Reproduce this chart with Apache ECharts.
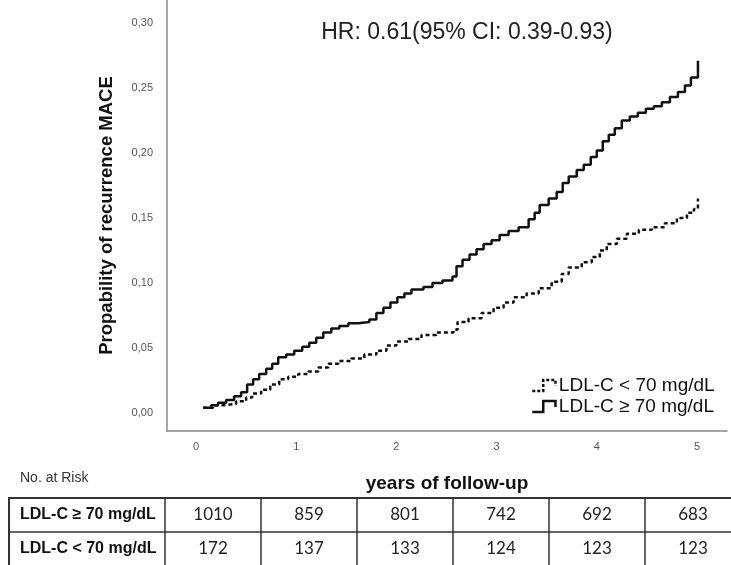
<!DOCTYPE html>
<html><head><meta charset="utf-8">
<script src="https://cdn.jsdelivr.net/npm/echarts@6/dist/echarts.min.js"></script>
<style>html,body{margin:0;padding:0;background:#fff}#c{width:731px;height:565px}</style>
</head><body><div id="c"></div>
<script>
// ---- data ----
var titleText = 'HR: 0.61(95% CI: 0.39-0.93)';
var yTitle = 'Propability of recurrence MACE';
var xTitle = 'years of follow-up';
var xTicks = [0, 1, 2, 3, 4, 5];
var yTicks = [0, 0.05, 0.10, 0.15, 0.20, 0.25, 0.30];
var seriesNames = ['LDL-C < 70 mg/dL', 'LDL-C \u2265 70 mg/dL'];

var highTime = [0.07,0.15,0.22,0.30,0.38,0.45,0.51,0.57,0.63,0.70,0.76,0.82,0.90,0.98,1.06,1.13,1.20,1.27,1.35,1.43,1.52,1.62,1.73,1.80,1.87,1.94,2.01,2.08,2.15,2.27,2.36,2.46,2.56,2.60,2.66,2.73,2.80,2.87,2.95,3.03,3.12,3.22,3.32,3.38,3.43,3.52,3.60,3.66,3.72,3.80,3.87,3.94,4.00,4.06,4.12,4.18,4.25,4.33,4.41,4.49,4.57,4.65,4.73,4.81,4.88,4.94,5.01];
var highProb = [0.004,0.006,0.008,0.010,0.013,0.016,0.022,0.026,0.030,0.034,0.038,0.043,0.045,0.048,0.051,0.054,0.058,0.062,0.065,0.067,0.069,0.070,0.072,0.077,0.081,0.085,0.089,0.092,0.095,0.097,0.100,0.102,0.105,0.113,0.118,0.122,0.126,0.130,0.133,0.137,0.140,0.143,0.149,0.154,0.160,0.165,0.170,0.177,0.182,0.187,0.191,0.197,0.202,0.209,0.214,0.219,0.225,0.228,0.231,0.234,0.236,0.239,0.243,0.247,0.252,0.258,0.271];

var lowTime = [0.07,0.17,0.28,0.40,0.50,0.56,0.65,0.74,0.83,0.92,1.02,1.12,1.22,1.32,1.42,1.55,1.68,1.80,1.90,2.00,2.12,2.25,2.40,2.57,2.61,2.72,2.85,2.97,3.07,3.17,3.30,3.42,3.55,3.65,3.72,3.85,3.95,4.03,4.10,4.20,4.30,4.42,4.55,4.68,4.80,4.90,4.97,5.01];
var lowProb = [0.004,0.006,0.007,0.009,0.012,0.015,0.018,0.022,0.026,0.028,0.030,0.032,0.035,0.038,0.040,0.042,0.045,0.048,0.052,0.055,0.057,0.060,0.062,0.064,0.070,0.073,0.077,0.081,0.085,0.089,0.092,0.096,0.101,0.107,0.112,0.116,0.120,0.125,0.130,0.134,0.138,0.141,0.143,0.146,0.150,0.154,0.157,0.165];

var riskLabel = 'No. at Risk';
var tableRowNames = ['LDL-C \u2265 70 mg/dL', 'LDL-C < 70 mg/dL'];
var riskHigh = [1010, 859, 801, 742, 692, 683];
var riskLow = [172, 137, 133, 124, 123, 123];

// ---- build ----
function pairs(t, v) { return t.map(function (x, i) { return [x, v[i]]; }); }
var FONT = '"Liberation Sans", Arial, sans-serif';
var chart = echarts.init(document.getElementById('c'), null, { renderer: 'canvas' });

// table graphic
var tLeft = 9, tTop = 498, rowH = 34, firstColW = 156, colW = 96;
var g = [];
var tableRight = tLeft + firstColW + colW * riskHigh.length;
g.push({ type: 'text', left: 20, top: 471, style: { text: riskLabel, font: '14px ' + FONT, fill: '#333' } });
g.push({ type: 'rect', shape: { x: tLeft, y: tTop, width: tableRight - tLeft, height: rowH * 2 }, style: { fill: 'none', stroke: '#333', lineWidth: 2 } });
g.push({ type: 'line', shape: { x1: tLeft, y1: tTop + rowH, x2: tableRight, y2: tTop + rowH }, style: { stroke: '#333', lineWidth: 1.5 } });
for (var i = 0; i <= riskHigh.length - 1; i++) {
  var xx = tLeft + firstColW + colW * i;
  g.push({ type: 'line', shape: { x1: xx, y1: tTop, x2: xx, y2: tTop + rowH * 2 }, style: { stroke: '#333', lineWidth: 1.5 } });
}
var rows = [riskHigh, riskLow];
rows.forEach(function (r, ri) {
  var cy = tTop + rowH * ri + rowH / 2;
  g.push({ type: 'text', x: 20, y: cy, style: { text: tableRowNames[ri], font: 'bold 16px ' + FONT, fill: '#111', textVerticalAlign: 'middle', verticalAlign: 'middle' } });
  r.forEach(function (v, ci) {
    var cx = tLeft + firstColW + colW * ci + colW / 2;
    g.push({ type: 'text', x: cx, y: cy, style: { text: String(v), font: '17px Lato, "Open Sans", sans-serif', fill: '#222', align: 'center', textAlign: 'center', verticalAlign: 'middle', textVerticalAlign: 'middle' } });
  });
});

var stepIcon = 'path://M0,10 L9,10 L9,1 L19,1 L19,6';
var option = {
  animation: false,
  backgroundColor: '#fff',
  title: { text: titleText, left: 462, top: 16, textAlign: 'center',
    textStyle: { fontFamily: FONT, fontSize: 23, fontWeight: 'normal', color: '#222' } },
  grid: { left: 167, right: 4, top: 0, bottom: 134, containLabel: false },
  legend: {
    orient: 'vertical', left: 526, top: 371, itemGap: 2, itemWidth: 26, itemHeight: 11,
    textStyle: { fontFamily: FONT, fontSize: 19, color: '#111', padding: [0, 0, 0, -3] },
    data: [
      { name: seriesNames[0], icon: stepIcon, itemStyle: { color: 'rgba(0,0,0,0)', borderColor: '#111', borderWidth: 2.5, borderType: [3, 2] } },
      { name: seriesNames[1], icon: stepIcon, itemStyle: { color: 'rgba(0,0,0,0)', borderColor: '#111', borderWidth: 2.5 } }
    ]
  },
  xAxis: {
    type: 'value', min: -0.29, max: 5.3,
    name: xTitle, nameLocation: 'middle', nameGap: 43,
    nameTextStyle: { fontFamily: FONT, fontSize: 19, fontWeight: 'bold', color: '#111' },
    axisLine: { show: true, onZero: false, lineStyle: { color: '#888', width: 1.5 } },
    axisTick: { show: false },
    splitLine: { show: false },
    axisLabel: { customValues: xTicks, fontFamily: FONT, fontSize: 11, color: '#555', margin: 10, formatter: function (v) { return String(v); } }
  },
  yAxis: {
    type: 'value', min: -0.0138, max: 0.3177,
    name: yTitle, nameLocation: 'middle', nameGap: 51,
    nameTextStyle: { fontFamily: FONT, fontSize: 18.5, fontWeight: 'bold', color: '#111' },
    axisLine: { show: true, onZero: false, lineStyle: { color: '#888', width: 1.5 } },
    axisTick: { show: false },
    splitLine: { show: false },
    axisLabel: { customValues: yTicks, fontFamily: FONT, fontSize: 11, color: '#555', margin: 14, formatter: function (v) { return v.toFixed(2).replace('.', ','); } }
  },
  series: [
    { name: seriesNames[0], type: 'line', step: 'end', showSymbol: false, data: pairs(lowTime, lowProb),
      lineStyle: { color: '#111', width: 2.5, type: [4, 3] }, itemStyle: { color: '#111' } },
    { name: seriesNames[1], type: 'line', step: 'end', showSymbol: false, data: pairs(highTime, highProb),
      lineStyle: { color: '#111', width: 2.5 }, itemStyle: { color: '#111' } }
  ],
  graphic: g
};
chart.setOption(option);
</script>
</body></html>
